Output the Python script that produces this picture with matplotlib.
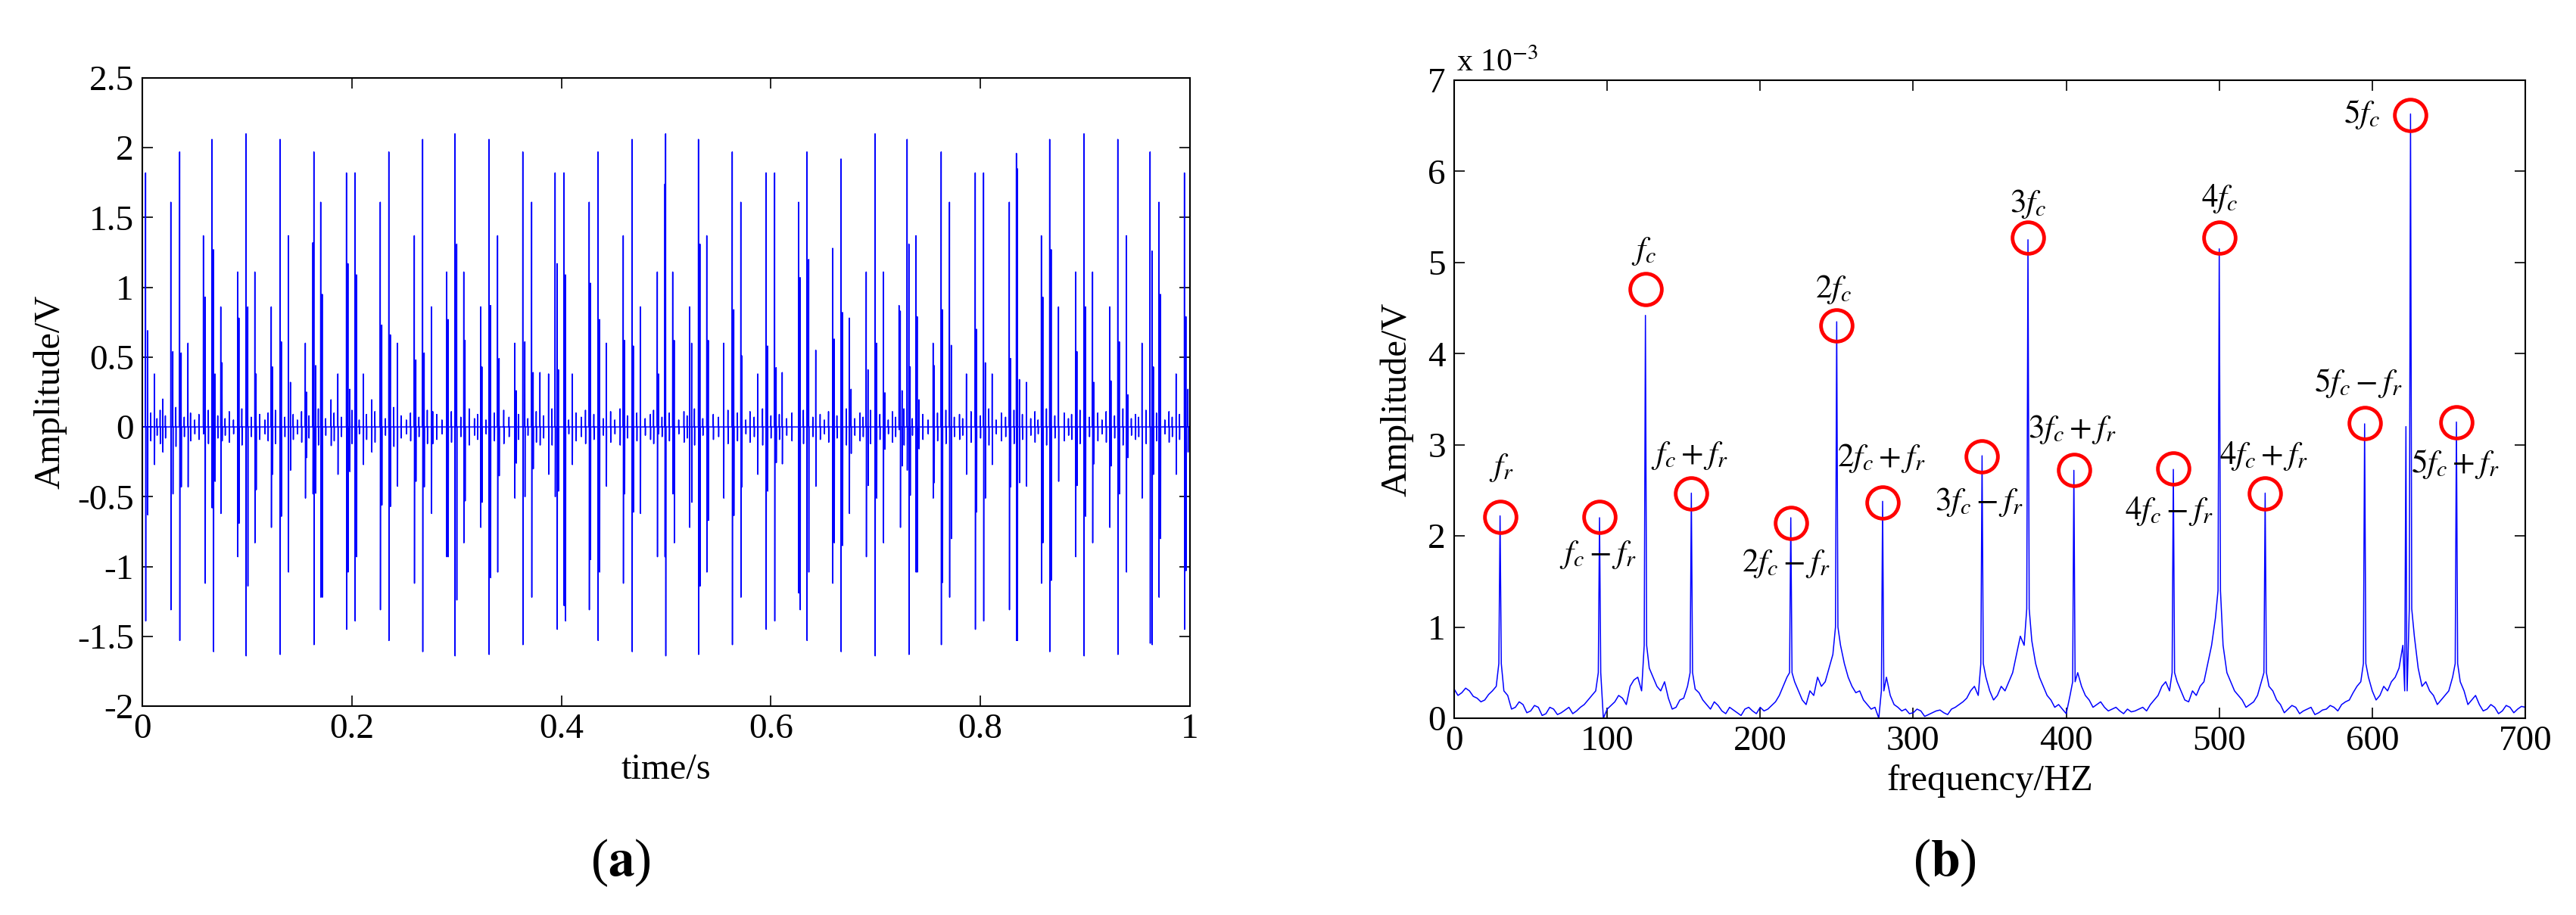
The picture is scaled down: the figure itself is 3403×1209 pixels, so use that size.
import numpy as np
import matplotlib
matplotlib.use("Agg")
import matplotlib.pyplot as plt

plt.rcParams['font.family'] = 'serif'
plt.rcParams['font.serif'] = ['Liberation Serif', 'DejaVu Serif']
plt.rcParams['mathtext.fontset'] = 'stix'
plt.rcParams['axes.unicode_minus'] = False

# ---------------- data: panel (a) time signal ----------------
# impulse events: time (s), positive peak (V), negative peak (V)
imp_t = [0.00313, 0.00506, 0.01156, 0.01951, 0.02722, 0.02914, 0.03565, 0.03709, 0.04359, 0.05829,
         0.05997, 0.06647, 0.06792, 0.06936, 0.0749, 0.07611, 0.09104, 0.09224, 0.09899, 0.10067,
         0.10742, 0.10862, 0.12307, 0.12428, 0.1315, 0.13271, 0.13945, 0.14138, 0.15559, 0.15679,
         0.16281, 0.16378, 0.16546, 0.17028, 0.17173, 0.18015, 0.18666, 0.19485, 0.19629, 0.19798,
         0.20303, 0.20448, 0.21098, 0.21893, 0.22712, 0.22856, 0.23531, 0.23675, 0.2435, 0.25963,
         0.26108, 0.26758, 0.26903, 0.27601, 0.27722, 0.29046, 0.29191, 0.29841, 0.30009, 0.30684,
         0.30804, 0.32298, 0.32418, 0.33092, 0.33237,
         0.33911, 0.34056, 0.35549, 0.35694, 0.3632, 0.36513, 0.37163, 0.37307, 0.37958, 0.38777,
         0.39403, 0.39595, 0.39716, 0.40246, 0.4039, 0.4104, 0.42654, 0.42775, 0.43497, 0.43642,
         0.44292, 0.45906, 0.46026, 0.46749, 0.46869, 0.47543, 0.49157, 0.49277, 0.49879, 0.49952,
         0.50626, 0.50771, 0.5224, 0.52433, 0.53083, 0.53227, 0.53878, 0.54022, 0.55491, 0.5631,
         0.56455, 0.57129, 0.57225, 0.58743, 0.59538, 0.59682, 0.60356, 0.60501, 0.61079, 0.62645,
         0.62789, 0.63439, 0.63608, 0.64282, 0.65896, 0.6604, 0.66691, 0.66835,
         0.67486, 0.67654, 0.69099, 0.69268, 0.69942, 0.70087, 0.70737, 0.70882, 0.7223, 0.72351,
         0.7252, 0.73001, 0.7317, 0.7329, 0.73844, 0.73964, 0.74133, 0.75482, 0.75578, 0.76253,
         0.76373, 0.77047, 0.77216, 0.78661, 0.79504, 0.79624, 0.80299, 0.80467, 0.81117, 0.82755,
         0.82876, 0.8343, 0.83526, 0.83719, 0.84393, 0.85814, 0.85959, 0.86609, 0.86753, 0.87452,
         0.8909, 0.8921, 0.89884, 0.90029, 0.90703, 0.90824, 0.92341, 0.92462, 0.93112, 0.93256,
         0.93931, 0.94075, 0.95424, 0.96194, 0.96387, 0.96508, 0.97038, 0.97182, 0.98676, 0.9947,
         0.99615, 0.99807]
imp_max = [1.82, 0.69, 0.38, 0.20, 1.61, 0.54, 1.97, 0.53, 0.60, 1.37,
           0.93, 2.06, 1.27, 0.38, 0.86, 0.46, 1.11, 0.78, 2.10, 0.86,
           1.11, 0.38, 0.86, 0.43, 2.06, 0.61, 1.37, 0.32, 0.60, 0.25,
           1.32, 1.97, 0.44, 1.61, 0.95, 0.195, 0.38, 1.82, 1.17, 0.27,
           1.82, 1.09, 0.38, 0.195, 1.61, 0.73, 1.97, 0.66, 0.60, 1.37,
           0.48, 2.06, 0.53, 0.86, 0.11, 1.11, 0.77, 2.10, 1.31, 1.11,
           0.62, 0.86, 0.43, 2.06, 0.87,
           1.37, 0.49, 0.60, 0.26, 1.97, 0.61, 1.61, 0.39, 0.39, 0.38,
           1.82, 1.17, 0.41, 1.82, 1.09, 0.38, 1.61, 1.03, 1.97, 0.77,
           0.60, 1.37, 0.62, 2.06, 0.58, 0.86, 1.11, 0.38, 1.74, 2.10,
           1.11, 0.62, 0.86, 0.60, 2.06, 1.31, 1.37, 0.62, 0.60, 1.97,
           0.84, 1.61, 0.51, 0.38, 1.82, 0.58, 1.82, 0.425, 0.39, 1.61,
           1.07, 1.97, 1.20, 0.55, 1.28, 0.63, 1.92, 0.82,
           0.78, 0.27, 1.11, 0.41, 2.10, 0.60, 1.11, 0.245, 0.87, 0.83,
           0.26, 2.06, 1.31, 0.43, 1.37, 0.79, 0.195, 0.60, 0.44, 1.97,
           0.84, 1.61, 0.585, 0.38, 1.82, 0.70, 1.82, 0.46, 0.38, 1.61,
           0.49, 1.96, 1.85, 0.34, 0.32, 1.37, 0.93, 2.06, 1.27, 0.86,
           1.11, 0.54, 2.10, 0.86, 1.11, 0.32, 0.86, 0.33, 2.06, 0.61,
           1.37, 0.23, 0.60, 1.97, 1.26, 0.43, 1.61, 0.95, 0.38, 1.82,
           0.79, 0.27]
imp_min = [-1.39, -0.63, -0.27, -0.18, -1.31, -0.48, -1.53, -0.43, -0.43, -0.05,
           -1.12, -0.58, -1.61, -0.39, -0.62, -0.10, -0.93, -0.69, -1.64, -1.14,
           -0.83, -0.45, -0.72, -0.34, -1.63, -0.64, -1.04, -0.31, -0.51, -0.22,
           -0.48, -1.56, -0.475, -1.22, -1.22, -0.134, -0.34, -1.45, -1.04, -0.32,
           -1.39, -0.93, -0.27, -0.18, -1.31, -0.56, -1.53, -0.57, -0.425, -1.12,
           -0.39, -1.61, -0.43, -0.62, -0.12, -0.93, -0.93, -1.64, -1.24, -0.83,
           -0.53, -0.72, -0.54, -1.63, -1.08,
           -1.04, -0.35, -0.51, -0.26, -1.56, -0.50, -1.22, -0.30, -0.13, -0.34,
           -0.50, -1.45, -0.46, -1.28, -1.39, -0.27, -1.31, -0.95, -1.53, -1.04,
           -0.425, -1.12, -0.48, -1.61, -0.61, -0.62, -0.93, -0.05, -0.93, -1.64,
           -0.48, -0.83, -0.72, -0.54, -1.63, -1.14, -1.04, -0.67, -0.51, -1.56,
           -0.635, -1.22, -0.43, -0.34, -1.45, -0.46, -1.39, -0.256, -0.265, -1.19,
           -1.31, -1.53, -1.04, -0.425, -1.12, -0.83, -1.61, -0.85,
           -0.62, -0.19, -0.93, -0.42, -1.64, -0.51, -0.83, -0.16, -0.02, -0.72,
           -0.28, -0.31, -1.63, -0.49, -1.04, -1.04, -0.157, -0.51, -0.40, -1.56,
           -1.115, -1.22, -0.80, -0.34, -1.45, -0.61, -1.39, -0.51, -0.27, -1.31,
           -0.43, -1.53, -1.53, -0.40, -0.425, -1.12, -0.83, -1.61, -1.10, -0.39,
           -0.93, -0.42, -1.64, -0.64, -0.83, -0.265, -0.72, -0.28, -1.63, -0.48,
           -1.04, -0.22, -0.51, -1.55, -1.56, -0.34, -1.22, -0.80, -0.34, -1.45,
           -1.03, -0.18]

# low-level ripple between impacts: time (s), amplitude (V)
ripple_t = [0.008, 0.014, 0.017, 0.022, 0.032, 0.040, 0.046, 0.050, 0.054, 0.063,
            0.072, 0.079, 0.083, 0.087, 0.095, 0.104, 0.112, 0.117, 0.120, 0.127,
            0.136, 0.144, 0.148, 0.152, 0.159, 0.168, 0.175, 0.183, 0.190, 0.200,
            0.207, 0.214, 0.222, 0.232, 0.240, 0.247, 0.252, 0.256, 0.264, 0.272,
            0.281, 0.286, 0.295, 0.304, 0.312, 0.317, 0.320, 0.328, 0.336, 0.345,
            0.350, 0.359, 0.368, 0.376, 0.383, 0.391, 0.407, 0.414, 0.419, 0.423,
            0.431, 0.440, 0.447, 0.451, 0.456, 0.463, 0.472, 0.480, 0.485, 0.488,
            0.496, 0.503, 0.512, 0.517, 0.520, 0.527, 0.535, 0.545, 0.550, 0.559,
            0.568, 0.576, 0.580, 0.584, 0.592, 0.600, 0.608, 0.615, 0.620, 0.631,
            0.640, 0.647, 0.651, 0.655, 0.663, 0.672, 0.680, 0.685, 0.688, 0.695,
            0.704, 0.712, 0.716, 0.719, 0.727, 0.735, 0.745, 0.750, 0.759, 0.767,
            0.775, 0.780, 0.783, 0.791, 0.800, 0.808, 0.815, 0.820, 0.824, 0.832,
            0.840, 0.848, 0.852, 0.855, 0.863, 0.871, 0.880, 0.884, 0.887, 0.895,
            0.904, 0.912, 0.916, 0.920, 0.928, 0.936, 0.944, 0.948, 0.951, 0.958,
            0.968, 0.976, 0.980, 0.983, 0.990]
ripple_amp = [0.10, 0.06, 0.12, 0.08, 0.14, 0.07, 0.10, 0.05, 0.09, 0.12,
              0.08, 0.06, 0.11, 0.05, 0.13, 0.07, 0.09, 0.05, 0.10, 0.12,
              0.07, 0.09, 0.05, 0.11, 0.08, 0.13, 0.06, 0.10, 0.07, 0.12,
              0.05, 0.09, 0.11, 0.06, 0.14, 0.08, 0.05, 0.10, 0.07, 0.12,
              0.09, 0.05, 0.11, 0.07, 0.13, 0.06, 0.09, 0.05, 0.10, 0.12,
              0.07, 0.09, 0.06, 0.11, 0.08, 0.13, 0.05, 0.10, 0.07, 0.12,
              0.09, 0.06, 0.11, 0.05, 0.13, 0.08, 0.10, 0.06, 0.09, 0.12,
              0.07, 0.10, 0.05, 0.11, 0.08, 0.13, 0.06, 0.09, 0.07, 0.12,
              0.10, 0.05, 0.11, 0.07, 0.13, 0.08, 0.09, 0.06, 0.10, 0.12,
              0.07, 0.09, 0.05, 0.11, 0.08, 0.13, 0.06, 0.10, 0.07, 0.12,
              0.09, 0.05, 0.11, 0.07, 0.13, 0.06, 0.09, 0.05, 0.10, 0.12,
              0.07, 0.09, 0.06, 0.11, 0.08, 0.13, 0.05, 0.10, 0.07, 0.12,
              0.09, 0.06, 0.11, 0.05, 0.13, 0.08, 0.10, 0.06, 0.09, 0.12,
              0.07, 0.10, 0.05, 0.11, 0.08, 0.13, 0.06, 0.09, 0.07, 0.12,
              0.10, 0.05, 0.11, 0.07, 0.09]

# ---------------- data: panel (b) amplitude spectrum (x 1e-3 V) ----------------
base_freq = np.arange(0, 705, 5)          # 0, 5, ..., 700 Hz
base_amp = [0.32, 0.28, 0.30, 0.22, 0.20, 0.30, 0.60, 0.25, 0.12, 0.15,
            0.08, 0.12, 0.05, 0.10, 0.06, 0.12, 0.08, 0.15, 0.25, 0.50,
            0.10, 0.18, 0.22, 0.35, 0.45, 0.80, 0.45, 0.30, 0.22, 0.12,
            0.22, 0.50, 0.28, 0.15, 0.18, 0.08, 0.12, 0.06, 0.10, 0.08,
            0.12, 0.10, 0.18, 0.35, 0.50, 0.30, 0.15, 0.25, 0.35, 0.55,
            1.00, 0.60, 0.35, 0.30, 0.15, 0.12, 0.30, 0.25, 0.12, 0.10,
            0.06, 0.08, 0.04, 0.08, 0.06, 0.10, 0.15, 0.22, 0.35, 0.60,
            0.30, 0.25, 0.30, 0.50, 0.90, 1.20, 0.60, 0.35, 0.20, 0.15,
            0.05, 0.40, 0.35, 0.20, 0.15, 0.12, 0.10, 0.08, 0.10, 0.08,
            0.12, 0.15, 0.25, 0.40, 0.50, 0.30, 0.18, 0.25, 0.40, 0.80,
            1.40, 0.50, 0.30, 0.20, 0.15, 0.25, 0.50, 0.30, 0.15, 0.10,
            0.12, 0.08, 0.12, 0.06, 0.10, 0.12, 0.15, 0.20, 0.35, 0.60,
            0.30, 0.25, 0.30, 0.45, 0.80, 1.20, 0.55, 0.40, 0.25, 0.20,
            0.30, 0.60, 0.30, 0.20, 0.15, 0.10, 0.12, 0.08, 0.12, 0.10,
            0.12]
mid_freq = np.arange(2.5, 700, 5)         # 2.5, 7.5, ..., 697.5 Hz
mid_amp = [0.25, 0.33, 0.24, 0.18, 0.26, 0.35, 0.30, 0.10, 0.18, 0.06,
           0.14, 0.03, 0.12, 0.04, 0.09, 0.05, 0.12, 0.20, 0.30, 0.00,
           0.14, 0.25, 0.15, 0.42, 0.30, 0.55, 0.35, 0.40, 0.10, 0.20,
           0.35, 0.32, 0.20, 0.10, 0.14, 0.05, 0.09, 0.03, 0.12, 0.05,
           0.08, 0.14, 0.25, 0.45, 0.40, 0.20, 0.30, 0.45, 0.40, 0.70,
           0.80, 0.45, 0.28, 0.20, 0.10, 0.00, 0.45, 0.15, 0.08, 0.05,
           0.10, 0.02, 0.06, 0.09, 0.04, 0.12, 0.18, 0.30, 0.25, 0.45,
           0.20, 0.35, 0.40, 0.70, 0.80, 0.85, 0.45, 0.25, 0.12, 0.10,
           0.25, 0.50, 0.25, 0.12, 0.18, 0.08, 0.12, 0.05, 0.07, 0.10,
           0.08, 0.20, 0.35, 0.30, 0.40, 0.20, 0.30, 0.35, 0.60, 1.10,
           0.80, 0.40, 0.25, 0.12, 0.18, 0.40, 0.35, 0.20, 0.06, 0.14,
           0.05, 0.10, 0.04, 0.09, 0.14, 0.08, 0.18, 0.28, 0.40, 0.45,
           0.20, 0.35, 0.40, 0.55, 0.70, 0.90, 0.35, 0.30, 0.15, 0.25,
           0.45, 0.40, 0.15, 0.25, 0.08, 0.15, 0.05, 0.14, 0.06, 0.13]

peak_freq = [30, 95, 125, 155, 220, 250, 280, 345, 375, 405, 470, 500, 530, 595, 622, 625, 655]
peak_amp = [2.22, 2.20, 4.42, 2.47, 2.20, 4.35, 2.38, 2.88, 5.25, 2.72, 2.73, 5.15, 2.47, 3.23, 3.20, 6.63, 3.25]

# marked components (circles) and their labels
mark_freq = [30, 95, 125, 155, 220, 250, 280, 345, 375, 405, 470, 500, 530, 595, 625, 655]
mark_amp = [2.21, 2.21, 4.71, 2.47, 2.14, 4.31, 2.37, 2.87, 5.27, 2.72, 2.74, 5.27, 2.47, 3.24, 6.62, 3.25]
mark_label = [r'$f_r$', r'$f_c-f_r$', r'$f_c$', r'$f_c+f_r$', r'$2f_c-f_r$', r'$2f_c$',
              r'$2f_c+f_r$', r'$3f_c-f_r$', r'$3f_c$', r'$3f_c+f_r$', r'$4f_c-f_r$', r'$4f_c$',
              r'$4f_c+f_r$', r'$5f_c-f_r$', r'$5f_c$', r'$5f_c+f_r$']
label_x = [31, 94, 124, 154, 217, 248, 279, 343, 375, 404, 467, 500, 529, 591, 593, 654]
label_y = [2.75, 1.79, 5.12, 2.88, 1.70, 4.70, 2.85, 2.37, 5.64, 3.17, 2.27, 5.70, 2.88, 3.68, 6.63, 2.79]

# ---------------- figure ----------------
W, H = 3403, 1209
fig = plt.figure(figsize=(W / 100, H / 100), dpi=100)
ax1 = fig.add_axes([188 / W, 1 - 933 / H, (1572 - 188) / W, (933 - 103) / H])
ax2 = fig.add_axes([1921 / W, 1 - 949 / H, (3336 - 1921) / W, (949 - 106) / H])

blue = (0, 0, 1)
tick_fs = 34

# panel (a): polyline through the impact events
ev = sorted(list(zip(imp_t, imp_max, imp_min)) +
            [(t, a, -a) for t, a in zip(ripple_t, ripple_amp)])
d = 0.00015
xs, ys = [0.0], [0.0]
for t, hi, lo in ev:
    xs += [t - d, t, t + d, t + 2 * d]
    ys += [0.0, hi, lo, 0.0]
xs.append(1.0)
ys.append(0.0)
ax1.plot(xs, ys, color=blue, lw=1.1)
ax1.set_xlim(0, 1)
ax1.set_ylim(-2, 2.5)
ax1.set_xticks([0, 0.2, 0.4, 0.6, 0.8, 1.0])
ax1.set_xticklabels(['0', '0.2', '0.4', '0.6', '0.8', '1'])
ax1.set_yticks([-2, -1.5, -1, -0.5, 0, 0.5, 1, 1.5, 2, 2.5])
ax1.set_yticklabels(['-2', '-1.5', '-1', '-0.5', '0', '0.5', '1', '1.5', '2', '2.5'])
ax1.set_xlabel('time/s', fontsize=35)
ax1.set_ylabel('Amplitude/V', fontsize=35)
ax1.xaxis.set_label_coords(0.5, -0.075)
ax1.yaxis.set_label_coords(-0.072, 0.5)

# panel (b): spectrum line from floor + peaks
pts = {float(f): a for f, a in zip(base_freq, base_amp)}
pts.update({float(f): a for f, a in zip(mid_freq, mid_amp)})
skirt = dict(pts)
for f, a in zip(peak_freq, peak_amp):
    s = skirt.get(float(f), 0.3)
    pts[f - 0.8] = s
    pts[float(f)] = a
    pts[f + 0.8] = s
fx = sorted(pts)
fy = [pts[k] for k in fx]
ax2.plot(fx, fy, color=blue, lw=1.1)
ax2.plot(mark_freq, mark_amp, 'o', ms=30, mfc='none', mec=(1, 0, 0), mew=3.5)
for x, y, s in zip(label_x, label_y, mark_label):
    ax2.text(x, y, s, ha='center', va='center', fontsize=31)
ax2.set_xlim(0, 700)
ax2.set_ylim(0, 7)
ax2.set_xticks(range(0, 701, 100))
ax2.set_yticks(range(0, 8))
ax2.set_xlabel('frequency/HZ', fontsize=35)
ax2.set_ylabel('Amplitude/V', fontsize=35)
ax2.xaxis.set_label_coords(0.5, -0.072)
ax2.yaxis.set_label_coords(-0.038, 0.5)
ax2.text(0.002, 1.003, r'x 10$^{-3}$', transform=ax2.transAxes, ha='left', va='bottom',
         fontsize=30)

for ax in (ax1, ax2):
    ax.tick_params(direction='in', length=10, width=1.2, top=True, right=True,
                   labelsize=tick_fs)
    ax.tick_params(axis='x', pad=7)
    ax.tick_params(axis='y', pad=8)
    for sp in ax.spines.values():
        sp.set_linewidth(1.5)

fig.text(820 / W, 1 - 1140 / H, r'($\mathbf{a}$)', ha='center', va='center', fontsize=50)
fig.text(2569 / W, 1 - 1140 / H, r'($\mathbf{b}$)', ha='center', va='center', fontsize=50)

fig.savefig('out.png', dpi=100, facecolor='white')
